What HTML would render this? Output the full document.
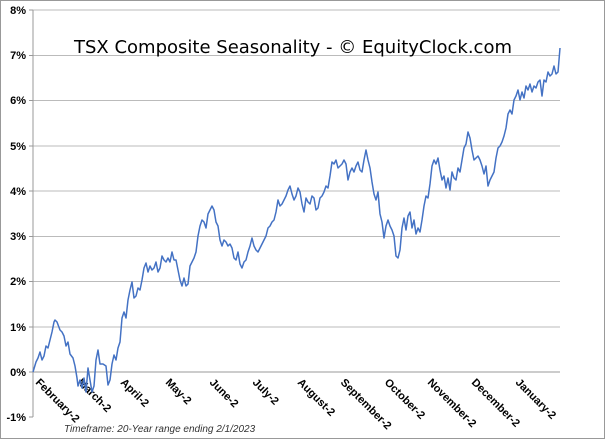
<!DOCTYPE html>
<html><head><meta charset="utf-8"><style>
html,body{margin:0;padding:0;background:#fff;}
svg{display:block;}
</style></head><body>
<svg width="605" height="439" xmlns="http://www.w3.org/2000/svg" font-family="Liberation Sans, sans-serif">
<rect x="0.5" y="0.5" width="604" height="438" fill="#fff" stroke="#999"/>
<g stroke="#bbb" stroke-width="1">
<line x1="33" y1="10" x2="560" y2="10"/>
<line x1="33" y1="55.5" x2="560" y2="55.5"/>
<line x1="33" y1="100.5" x2="560" y2="100.5"/>
<line x1="33" y1="146" x2="560" y2="146"/>
<line x1="33" y1="191" x2="560" y2="191"/>
<line x1="33" y1="236.5" x2="560" y2="236.5"/>
<line x1="33" y1="281.5" x2="560" y2="281.5"/>
<line x1="33" y1="327" x2="560" y2="327"/>
</g>
<line x1="33" y1="372" x2="560" y2="372" stroke="#999"/>
<line x1="33" y1="10" x2="33" y2="417" stroke="#999"/>
<g stroke="#999">
<line x1="29" y1="10" x2="33" y2="10"/><line x1="29" y1="55.5" x2="33" y2="55.5"/><line x1="29" y1="100.5" x2="33" y2="100.5"/><line x1="29" y1="146" x2="33" y2="146"/><line x1="29" y1="191" x2="33" y2="191"/><line x1="29" y1="236.5" x2="33" y2="236.5"/><line x1="29" y1="281.5" x2="33" y2="281.5"/><line x1="29" y1="327" x2="33" y2="327"/><line x1="29" y1="372" x2="33" y2="372"/><line x1="29" y1="417" x2="33" y2="417"/>
</g>
<g font-size="11" font-weight="bold" fill="#000" text-anchor="end">
<text x="26" y="14">8%</text><text x="26" y="59">7%</text><text x="26" y="104">6%</text><text x="26" y="150">5%</text><text x="26" y="195">4%</text><text x="26" y="240">3%</text><text x="26" y="285">2%</text><text x="26" y="331">1%</text><text x="26" y="376">0%</text><text x="26" y="421">-1%</text>
</g>
<g font-size="11" font-weight="bold" fill="#000">
<text transform="translate(35,383) rotate(45)">February-2</text>
<text transform="translate(77,383) rotate(45)">March-2</text>
<text transform="translate(120,383) rotate(45)">April-2</text>
<text transform="translate(165,383) rotate(45)">May-2</text>
<text transform="translate(209,383) rotate(45)">June-2</text>
<text transform="translate(252,383) rotate(45)">July-2</text>
<text transform="translate(297,383) rotate(45)">August-2</text>
<text transform="translate(340,383) rotate(45)">September-2</text>
<text transform="translate(384,383) rotate(45)">October-2</text>
<text transform="translate(427,383) rotate(45)">November-2</text>
<text transform="translate(471,383) rotate(45)">December-2</text>
<text transform="translate(515,383) rotate(45)">January-2</text>
</g>
<text x="74" y="53" font-size="18" font-family="DejaVu Sans, sans-serif" fill="#000" textLength="438" lengthAdjust="spacingAndGlyphs">TSX Composite Seasonality - © EquityClock.com</text>
<text x="64" y="432" font-size="10" font-style="italic" fill="#333">Timeframe: 20-Year range ending 2/1/2023</text>
<polyline fill="none" stroke="#4472C4" stroke-width="1.5" stroke-linejoin="round" points="33,372 36,362 38,358 40,352 42,360 44,356 46,346 48,348 50,340 52,332 54,322 55,320 57,322 60,330 62,332 64,336 66,346 68,342 70,354 73,358 75,366 77,378 78,386 80,380 82,388 84,378 86,392 88,368 90,380 92,392 94,386 96,360 98,350 100,364 103,364 106,366 108,385 110,380 112,364 114,355 116,360 118,348 120,342 122,318 124,312 126,318 128,300 130,290 132,282 134,298 136,296 138,288 140,290 142,280 144,268 146,263 148,272 150,266 152,270 154,268 156,262 158,272 160,268 162,256 164,260 166,262 168,258 170,262 172,252 174,260 176,260 178,270 180,280 182,286 184,278 186,286 188,284 190,266 192,262 194,258 196,252 198,236 200,226 202,220 204,222 206,228 208,214 210,210 212,206 214,210 216,222 218,226 220,240 222,246 224,240 226,242 228,246 230,244 232,248 234,258 236,260 238,252 240,264 242,268 244,262 246,260 248,252 250,246 252,238 254,246 256,250 258,252 260,248 262,244 264,240 266,236 268,228 270,226 272,222 274,220 276,212 278,200 280,206 282,204 284,200 286,196 288,190 290,186 292,194 294,200 296,196 298,188 300,192 302,204 304,212 306,198 308,202 310,204 312,196 314,198 316,210 318,208 320,198 322,196 324,192 326,186 328,188 330,176 332,162 334,164 336,160 338,168 340,166 342,164 344,160 346,164 348,180 350,172 352,168 354,172 356,166 358,162 360,170 362,172 364,160 366,150 368,160 370,168 372,182 374,194 376,200 378,192 380,214 382,222 384,238 386,226 388,220 390,226 392,230 394,236 396,256 398,258 400,250 402,228 404,218 406,230 408,216 410,212 412,228 414,220 416,234 418,228 420,232 422,220 424,206 426,196 428,198 430,184 432,166 434,160 436,164 438,158 440,170 442,180 444,176 446,188 448,178 450,190 452,172 454,178 456,180 458,168 460,172 462,160 464,148 466,144 468,132 470,138 472,150 474,160 476,158 478,156 480,160 482,166 484,174 486,166 488,186 490,180 492,176 494,172 496,158 498,148 500,146 502,142 504,136 506,128 508,114 510,110 512,114 514,100 516,96 518,90 520,100 522,92 524,98 526,86 528,90 530,84 532,92 534,86 536,88 538,82 540,80 542,96 544,80 546,82 548,72 550,76 552,74 554,66 556,74 558,72 560,48"/>
</svg>
</body></html>
